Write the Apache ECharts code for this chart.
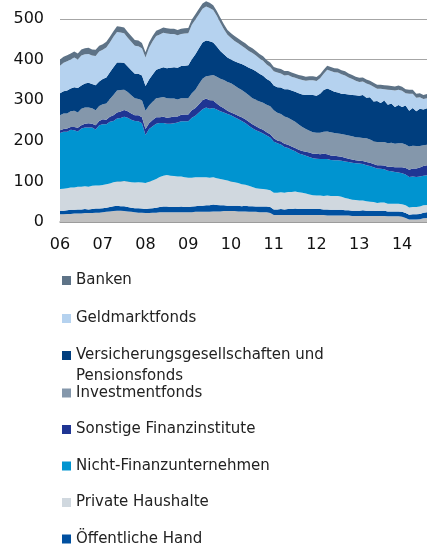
<!DOCTYPE html>
<html>
<head>
<meta charset="utf-8">
<script src="https://cdn.jsdelivr.net/npm/echarts@6/dist/echarts.min.js"></script>
<style>
  html, body { margin: 0; padding: 0; background: #fff; }
  #chart { width: 427px; height: 547px; }
</style>
</head>
<body>
<div id="chart"></div>
<script>
// Jahre der x-Achse, Monatswerte Jan 2006 bis Aug 2014
const years = ['06', '07', '08', '09', '10', '11', '12', '13', '14'];
const yTicks = [0, 100, 200, 300, 400, 500];

// Werte je Sektor (Mrd), von unten nach oben gestapelt
const rest = [
  19, 19, 20, 20, 21, 21, 21, 22, 22, 22, 23, 23,
  24, 25, 26, 27, 28, 28, 27, 26, 25, 24, 23, 23,
  22, 22, 23, 23, 24, 24, 24, 24, 24, 24, 24, 24,
  24, 24, 25, 25, 25, 25, 25, 26, 26, 26, 27, 27,
  27, 27, 26, 26, 26, 25, 25, 25, 24, 24, 24, 22,
  17, 17, 17, 17, 17, 17, 17, 17, 17, 17, 17, 17,
  17, 17, 17, 16, 16, 16, 16, 16, 16, 16, 15, 15,
  15, 15, 15, 15, 15, 15, 15, 15, 14, 14, 14, 14,
  13, 10, 6, 6, 6, 7, 9, 10
];
const oeffentlicheHand = [
  9, 9, 9, 10, 9, 10, 10, 10, 9, 10, 10, 10,
  10, 10, 11, 12, 12, 11, 12, 11, 10, 10, 11, 10,
  10, 11, 11, 12, 13, 14, 14, 13, 13, 13, 14, 13,
  13, 14, 14, 15, 15, 16, 16, 17, 16, 15, 14, 13,
  13, 13, 14, 13, 14, 14, 14, 13, 14, 14, 14, 15,
  14, 14, 15, 14, 15, 15, 16, 15, 15, 15, 15, 15,
  15, 15, 14, 15, 14, 14, 14, 14, 13, 13, 13, 13,
  13, 14, 13, 13, 13, 12, 13, 13, 12, 12, 12, 12,
  12, 12, 12, 13, 13, 13, 14, 14
];
const privateHaushalte = [
  53, 54, 54, 55, 55, 56, 56, 56, 56, 57, 57, 57,
  57, 58, 58, 59, 60, 61, 62, 63, 63, 63, 64, 64,
  64, 66, 68, 71, 74, 76, 78, 77, 76, 75, 74, 73,
  72, 71, 71, 70, 70, 69, 68, 67, 66, 65, 63, 62,
  60, 58, 56, 54, 52, 50, 47, 45, 44, 43, 42, 41,
  41, 41, 41, 41, 42, 42, 42, 41, 40, 38, 36, 34,
  33, 33, 33, 34, 34, 34, 34, 32, 30, 28, 27, 26,
  25, 24, 23, 22, 21, 20, 20, 20, 19, 19, 19, 19,
  19, 19, 18, 18, 18, 18, 18, 18
];
const nichtFinanz = [
  138, 140, 139, 142, 141, 136, 143, 145, 146, 144, 138, 148,
  150, 148, 152, 151, 155, 156, 158, 157, 154, 152, 150, 146,
  118, 130, 134, 136, 133, 130, 126, 128, 130, 133, 136, 138,
  139, 148, 152, 160, 168, 172, 170, 171, 169, 167, 166, 164,
  163, 160, 158, 156, 152, 148, 145, 143, 140, 137, 133, 130,
  126, 122, 118, 113, 108, 104, 99, 96, 94, 93, 92, 91,
  91, 90, 91, 90, 89, 88, 88, 89, 90, 91, 91, 91,
  91, 90, 89, 88, 86, 85, 83, 82, 81, 80, 78, 77,
  76, 76, 75, 75, 74, 74, 73, 73
];
const sonstigeFinanz = [
  7, 7, 8, 7, 8, 9, 8, 9, 10, 9, 10, 11,
  12, 11, 12, 14, 15, 16, 17, 16, 15, 14, 15, 15,
  15, 14, 15, 16, 14, 15, 15, 16, 17, 15, 16, 17,
  17, 18, 19, 20, 22, 22, 21, 18, 15, 12, 10, 8,
  7, 8, 8, 9, 9, 10, 10, 10, 9, 9, 8, 8,
  8, 7, 7, 8, 8, 8, 8, 9, 9, 10, 11, 11,
  12, 12, 13, 12, 11, 11, 10, 10, 9, 8, 8, 7,
  7, 7, 8, 8, 8, 8, 9, 9, 10, 11, 12, 13,
  15, 16, 18, 20, 21, 22, 24, 25
];
const investmentfonds = [
  37, 38, 37, 39, 40, 38, 41, 40, 39, 38, 37, 37,
  37, 40, 44, 50, 54, 53, 50, 47, 45, 42, 40, 42,
  45, 44, 45, 47, 48, 49, 48, 46, 44, 42, 41, 40,
  40, 42, 45, 50, 53, 55, 60, 63, 66, 68, 70, 71,
  72, 70, 68, 67, 66, 65, 64, 65, 66, 67, 68, 69,
  69, 68, 68, 67, 67, 66, 65, 62, 59, 56, 54, 53,
  52, 53, 54, 56, 57, 56, 56, 56, 57, 57, 57, 57,
  57, 57, 58, 57, 56, 57, 57, 58, 58, 59, 58, 59,
  59, 58, 57, 56, 55, 53, 51, 50
];
const versicherungen = [
  54, 55, 57, 56, 58, 60, 57, 59, 61, 60, 62, 60,
  62, 64, 66, 68, 69, 68, 66, 63, 62, 60, 62, 61,
  61, 64, 67, 70, 72, 73, 74, 76, 77, 78, 79, 80,
  81, 84, 87, 88, 89, 88, 85, 80, 74, 68, 63, 60,
  58, 60, 62, 64, 66, 68, 71, 70, 68, 66, 63, 62,
  61, 63, 65, 67, 70, 72, 74, 77, 80, 84, 88, 92,
  91, 96, 103, 106, 104, 102, 101, 99, 100, 101, 102, 103,
  103, 106, 100, 104, 98, 101, 96, 102, 95, 97, 90, 94,
  89, 96, 88, 93, 86, 92, 88, 90
];
const geldmarktfonds = [
  68, 70, 72, 71, 73, 70, 74, 72, 71, 70, 72, 74,
  72, 74, 73, 75, 75, 74, 73, 71, 70, 69, 68, 67,
  70, 78, 82, 83, 84, 85, 85, 83, 82, 80, 79, 79,
  79, 85, 86, 84, 83, 84, 82, 80, 76, 70, 62, 56,
  53, 50, 48, 45, 43, 41, 40, 39, 38, 37, 36, 35,
  35, 36, 35, 34, 35, 34, 34, 35, 36, 35, 36, 36,
  36, 38, 40, 46, 47, 48, 49, 48, 46, 42, 39, 36,
  34, 33, 35, 31, 36, 30, 35, 28, 37, 33, 41, 38,
  40, 30, 42, 35, 33, 28, 26, 25
];
const banken = [
  15, 15, 15, 15, 15, 15, 15, 15, 15, 15, 15, 14,
  14, 14, 14, 14, 14, 14, 14, 14, 14, 14, 14, 13,
  13, 13, 13, 13, 13, 13, 13, 13, 13, 13, 13, 13,
  13, 13, 13, 13, 13, 13, 13, 12, 12, 12, 12, 12,
  12, 12, 12, 12, 12, 12, 12, 11, 11, 11, 11, 11,
  11, 11, 11, 11, 10, 10, 10, 10, 10, 10, 10, 10,
  10, 10, 10, 10, 10, 10, 10, 10, 10, 10, 10, 10,
  10, 10, 10, 10, 10, 10, 10, 10, 10, 10, 10, 10,
  10, 10, 10, 10, 10, 10, 10, 10
];

// Monatskategorien 'JJ-MM'
const months = [];
years.forEach(y => {
  for (let m = 1; m <= 12; m++) months.push(y + '-' + String(m).padStart(2, '0'));
});
months.length = banken.length;

const fontFamily = 'DejaVu Sans';
const versName = 'Versicherungsgesellschaften und\nPensionsfonds';

const sectors = [
  { name: 'Übrige', data: rest, color: '#c0c0c0' },
  { name: 'Öffentliche Hand', data: oeffentlicheHand, color: '#0050a0' },
  { name: 'Private Haushalte', data: privateHaushalte, color: '#d0d8df' },
  { name: 'Nicht-Finanzunternehmen', data: nichtFinanz, color: '#0094d0' },
  { name: 'Sonstige Finanzinstitute', data: sonstigeFinanz, color: '#1f3593' },
  { name: 'Investmentfonds', data: investmentfonds, color: '#8497ab' },
  { name: versName, data: versicherungen, color: '#003e7e' },
  { name: 'Geldmarktfonds', data: geldmarktfonds, color: '#b5d2ef' },
  { name: 'Banken', data: banken, color: '#5e7387' }
];

// gemeinsame Legendeneinstellungen
const legendBase = {
  orient: 'vertical',
  left: 62,
  padding: 0,
  itemWidth: 9,
  itemHeight: 9,
  icon: 'rect',
  selectedMode: false,
  height: 200,
  textStyle: { fontFamily: fontFamily, fontSize: 15, color: '#222', lineHeight: 21 }
};

const myChart = echarts.init(document.getElementById('chart'));

const option = {
  animation: false,
  color: sectors.map(s => s.color),
  grid: { left: 60, right: 0, top: 19, bottom: 325 },
  legend: [
    Object.assign({}, legendBase, {
      top: 270,
      itemGap: 17,
      data: ['Banken', 'Geldmarktfonds']
    }),
    // zweizeiliger Eintrag: Leerzeile oben, damit Symbol auf der ersten Zeile sitzt
    Object.assign({}, legendBase, {
      top: 324,
      data: [versName],
      formatter: (name) => '\n' + name
    }),
    Object.assign({}, legendBase, {
      top: 385,
      itemGap: 20.5,
      data: ['Investmentfonds', 'Sonstige Finanzinstitute', 'Nicht-Finanzunternehmen',
             'Private Haushalte', 'Öffentliche Hand'],
      textStyle: { fontFamily: fontFamily, fontSize: 15, color: '#222', lineHeight: 16 }
    })
  ],
  xAxis: {
    type: 'category',
    boundaryGap: false,
    data: months,
    axisLine: { lineStyle: { color: '#999', width: 1.5 } },
    axisTick: { show: false },
    axisLabel: {
      interval: (i) => i % 12 === 0,
      formatter: (v) => v.slice(0, 2),
      fontFamily: fontFamily,
      fontSize: 16,
      color: '#111',
      margin: 15
    }
  },
  yAxis: {
    type: 'value',
    min: yTicks[0],
    max: yTicks[yTicks.length - 1],
    interval: 100,
    axisLine: { show: false },
    axisTick: { show: false },
    axisLabel: {
      fontFamily: fontFamily,
      fontSize: 16,
      color: '#111',
      margin: 16
    },
    splitLine: { lineStyle: { color: '#a6a6a6', width: 1 } }
  },
  series: sectors.map(s => ({
    name: s.name,
    type: 'line',
    stack: 'total',
    data: s.data,
    clip: false,
    showSymbol: false,
    symbol: 'none',
    lineStyle: { width: 0 },
    areaStyle: { color: s.color, opacity: 1 },
    itemStyle: { color: s.color },
    emphasis: { disabled: true }
  }))
};

myChart.setOption(option);
</script>
</body>
</html>
